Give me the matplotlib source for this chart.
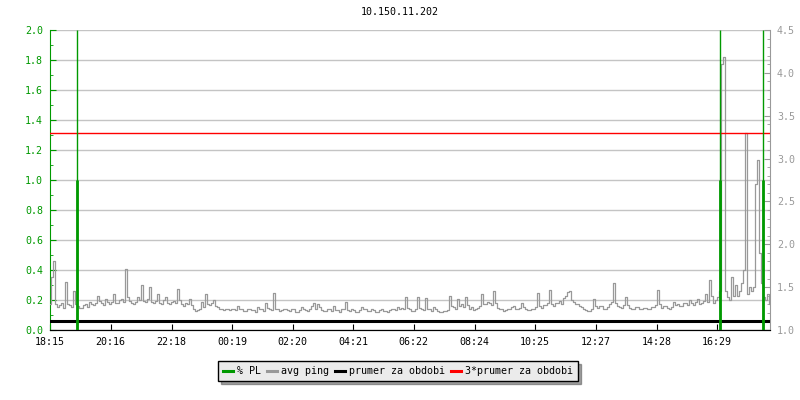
import numpy as np
import matplotlib
matplotlib.use('Agg')
from matplotlib import pyplot as plt
from matplotlib.lines import Line2D

plt.rcParams['font.family'] = ['DejaVu Sans Mono']
plt.rcParams['font.size'] = 7.2

title = '10.150.11.202'
step_min = 4  # one sample every 4 minutes from 18:15

# avg ping [ms]
ping_ms = [
    # 18:15 - 20:15
    1.30, 1.62, 1.80, 1.30, 1.27, 1.29, 1.31, 1.26, 1.56, 1.30, 1.29, 1.27, 1.45, 1.30, 1.28,
    1.26, 1.26, 1.29, 1.30, 1.27, 1.33, 1.30, 1.29, 1.32, 1.40, 1.34, 1.31, 1.29, 1.36, 1.33,
    # 20:15 - 22:15
    1.30, 1.33, 1.42, 1.32, 1.31, 1.35, 1.36, 1.33, 1.71, 1.38, 1.34, 1.31, 1.30, 1.33, 1.38,
    1.35, 1.52, 1.34, 1.33, 1.36, 1.50, 1.33, 1.31, 1.34, 1.42, 1.32, 1.30, 1.35, 1.38, 1.31,
    # 22:15 - 00:15
    1.30, 1.33, 1.34, 1.31, 1.48, 1.35, 1.30, 1.28, 1.32, 1.30, 1.36, 1.29, 1.24, 1.22, 1.23,
    1.25, 1.33, 1.27, 1.42, 1.30, 1.29, 1.31, 1.35, 1.28, 1.27, 1.25, 1.24, 1.23, 1.25, 1.24,
    # 00:15 - 02:15
    1.23, 1.24, 1.25, 1.23, 1.28, 1.24, 1.24, 1.22, 1.22, 1.25, 1.25, 1.23, 1.23, 1.21, 1.27,
    1.24, 1.24, 1.22, 1.31, 1.26, 1.25, 1.23, 1.43, 1.25, 1.24, 1.22, 1.23, 1.24, 1.25, 1.23,
    # 02:15 - 04:15
    1.22, 1.24, 1.24, 1.21, 1.21, 1.23, 1.27, 1.24, 1.23, 1.22, 1.25, 1.28, 1.31, 1.24, 1.30,
    1.27, 1.23, 1.22, 1.22, 1.24, 1.24, 1.22, 1.28, 1.23, 1.23, 1.21, 1.25, 1.24, 1.33, 1.23,
    # 04:15 - 06:15
    1.22, 1.24, 1.23, 1.21, 1.21, 1.23, 1.27, 1.24, 1.24, 1.22, 1.22, 1.25, 1.23, 1.21, 1.21,
    1.23, 1.24, 1.22, 1.22, 1.21, 1.23, 1.24, 1.25, 1.23, 1.27, 1.25, 1.26, 1.24, 1.38, 1.26,
    # 06:15 - 08:15
    1.24, 1.22, 1.22, 1.24, 1.39, 1.26, 1.25, 1.23, 1.37, 1.25, 1.24, 1.22, 1.27, 1.24, 1.22,
    1.21, 1.21, 1.22, 1.22, 1.23, 1.40, 1.28, 1.27, 1.25, 1.36, 1.28, 1.30, 1.27, 1.38, 1.29,
    # 08:15 - 10:15
    1.25, 1.27, 1.23, 1.25, 1.26, 1.28, 1.42, 1.30, 1.30, 1.33, 1.32, 1.29, 1.45, 1.31, 1.26,
    1.24, 1.24, 1.22, 1.23, 1.25, 1.25, 1.27, 1.28, 1.25, 1.24, 1.26, 1.31, 1.27, 1.25, 1.23,
    # 10:15 - 12:15
    1.23, 1.25, 1.25, 1.27, 1.43, 1.28, 1.26, 1.29, 1.29, 1.32, 1.47, 1.30, 1.28, 1.31, 1.31,
    1.34, 1.30, 1.37, 1.40, 1.44, 1.45, 1.35, 1.33, 1.30, 1.30, 1.28, 1.27, 1.25, 1.23, 1.22,
    # 12:15 - 14:15
    1.22, 1.24, 1.36, 1.28, 1.26, 1.28, 1.28, 1.25, 1.25, 1.27, 1.30, 1.33, 1.55, 1.32, 1.28,
    1.27, 1.26, 1.29, 1.39, 1.29, 1.26, 1.24, 1.25, 1.27, 1.27, 1.25, 1.24, 1.26, 1.26, 1.24,
    # 14:15 - 16:35
    1.25, 1.27, 1.27, 1.29, 1.47, 1.30, 1.26, 1.28, 1.28, 1.26, 1.25, 1.27, 1.33, 1.29, 1.30,
    1.28, 1.28, 1.31, 1.32, 1.29, 1.35, 1.31, 1.29, 1.33, 1.36, 1.30, 1.31, 1.34, 1.42, 1.33,
    1.58, 1.40, 1.32, 1.35, 1.38,
    # 16:35 - 18:15
    1.45, 4.10, 4.19, 1.45, 1.38, 1.35, 1.62, 1.40, 1.52, 1.40, 1.45, 1.55, 1.70, 3.30, 1.42,
    1.50, 1.45, 1.50, 2.70, 2.98, 1.90, 1.55, 1.38, 1.35, 1.42, 1.30,
]
avg_ms = 1.10       # prumer za obdobi
avg3_ms = 3.30      # 3*prumer za obdobi

# packet loss events (minutes after 18:15)
pl_minutes = [54, 1340, 1426]
pl_pct = [1.0, 1.0, 1.0]
pl_peak = [2.0, 2.0, 2.0]

tick_labels = ['18:15', '20:16', '22:18', '00:19', '02:20', '04:21',
               '06:22', '08:24', '10:25', '12:27', '14:28', '16:29']

GREEN = '#009900'
GRAY = '#999999'

def to_min(s):
    h, m = s.split(':')
    return (int(h) * 60 + int(m) - (18 * 60 + 15)) % 1440

minutes = np.arange(len(ping_ms)) * step_min
tick_pos = [to_min(t) for t in tick_labels]

fig = plt.figure(figsize=(8, 4), dpi=100)
ax = fig.add_axes([0.0625, 0.175, 0.9, 0.75])
ax2 = ax.twinx()

ax.set_xlim(0, 1440)
ax.set_ylim(0, 2.0)
ax2.set_ylim(1.0, 4.5)

ax.set_yticks(np.arange(0, 2.01, 0.2))
ax.set_yticks(np.arange(0, 2.01, 0.1), minor=True)
ax.set_yticklabels(['%.1f' % v for v in np.arange(0, 2.01, 0.2)])
ax.yaxis.grid(True, color='#c4c4c4', linewidth=1)
ax.set_axisbelow(True)
ax.set_xticks(tick_pos)
ax.set_xticklabels(tick_labels)

ax2.set_yticks(np.arange(1.0, 4.51, 0.5))
ax2.set_yticks(np.arange(1.0, 4.51, 0.1), minor=True)
ax2.set_yticklabels(['%.1f' % v for v in np.arange(1.0, 4.51, 0.5)])

ax.tick_params(axis='y', which='both', direction='in', colors=GREEN, labelcolor=GREEN, pad=5)
ax.tick_params(axis='y', which='major', length=4)
ax.tick_params(axis='y', which='minor', length=2.5)
ax.tick_params(axis='x', direction='in', length=4, colors='black', pad=5)
ax2.tick_params(axis='y', which='both', direction='in', colors=GRAY, labelcolor=GRAY, pad=5)
ax2.tick_params(axis='y', which='major', length=4)
ax2.tick_params(axis='y', which='minor', length=2.5)

for a in (ax, ax2):
    a.spines['top'].set_visible(False)
ax.spines['left'].set_color(GREEN)
ax.spines['right'].set_visible(False)
ax2.spines['left'].set_visible(False)
ax2.spines['right'].set_color(GRAY)
ax2.spines['bottom'].set_color('black')

ax2.plot(minutes, ping_ms, color=GRAY, linewidth=0.9, drawstyle='steps-mid', zorder=3)
ax2.axhline(avg_ms, color='black', linewidth=2.2, zorder=4)
ax2.axhline(avg3_ms, color='red', linewidth=1.0, zorder=4)
ax2.vlines(pl_minutes, 0, pl_peak, color=GREEN, linewidth=1.0,
           transform=ax.transData, zorder=5)
ax2.vlines(pl_minutes, 0, pl_pct, color=GREEN, linewidth=2.0,
           transform=ax.transData, zorder=5)

fig.text(0.5, 0.97, title, ha='center', va='center', fontsize=7.2)

handles = [Line2D([], [], color=GREEN, linewidth=2.2),
           Line2D([], [], color=GRAY, linewidth=2.2),
           Line2D([], [], color='black', linewidth=2.2),
           Line2D([], [], color='red', linewidth=2.2)]
labels = ['% PL', 'avg ping', 'prumer za obdobi', '3*prumer za obdobi']
leg = fig.legend(handles, labels, loc='center', bbox_to_anchor=(0.498, 0.072),
                 ncol=4, frameon=True, fancybox=False, shadow=True,
                 edgecolor='black', facecolor='#ebebeb', framealpha=1,
                 handlelength=1.0, handletextpad=0.4, columnspacing=0.6,
                 borderpad=0.5, fontsize=7.2)

fig.savefig('out.png', dpi=100)
